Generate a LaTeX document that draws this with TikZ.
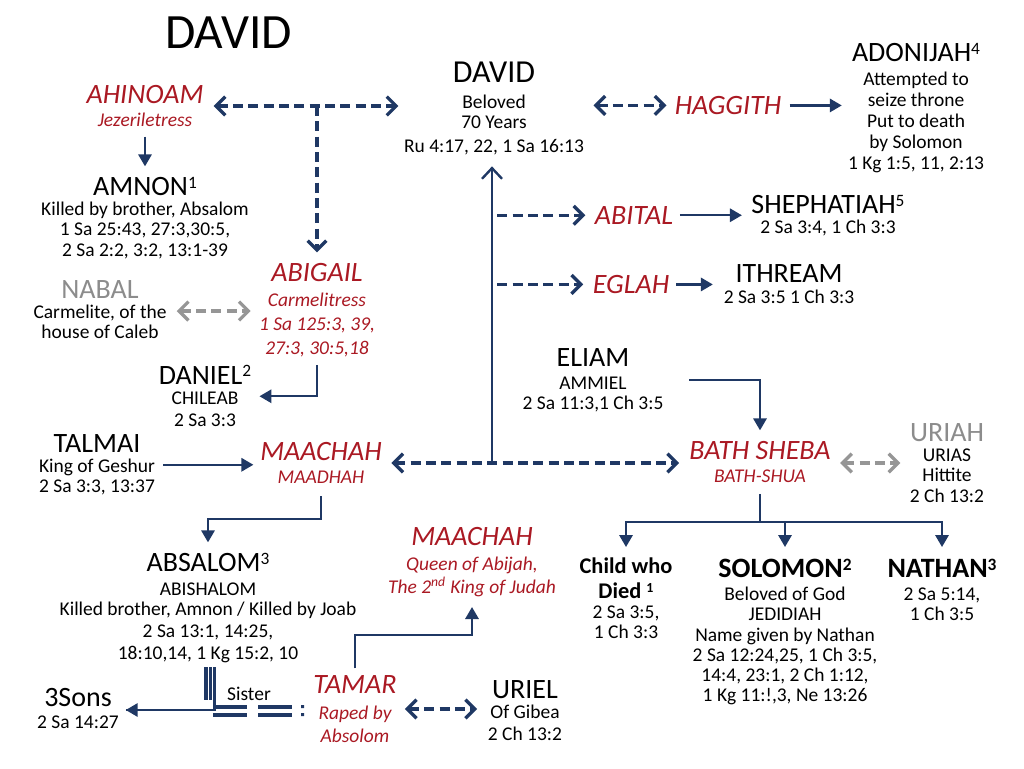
\documentclass[tikz,border=0pt]{standalone}
\usepackage{fontspec}
\setmainfont{Carlito}
\usepackage{graphicx}
\usetikzlibrary{arrows.meta,calc}
\definecolor{navy}{RGB}{31,56,100}
\definecolor{dred}{RGB}{170,25,35}
\definecolor{lgray}{RGB}{140,140,140}
\definecolor{lline}{RGB}{150,150,150}
\newcommand\PName[1]{{\fontsize{21}{15}\selectfont #1}}
\newcommand\RName[1]{{\fontsize{21}{15}\selectfont #1}}
\newcommand\GName[1]{{\color{lgray}\fontsize{21}{15}\selectfont #1}}
\newcommand\BName[1]{{\bfseries\fontsize{21}{15}\selectfont #1}}
\newcommand\SupN[1]{\smash{\raisebox{0.26em}{\scalebox{0.62}{#1}}}}
\tikzset{
  person/.style={align=center, inner sep=0pt, anchor=north, font=\fontsize{14.6}{15.2}\selectfont},
  redp/.style={person, text=dred, font=\fontsize{14.6}{17.5}\selectfont\itshape},
  sl/.style={draw=navy, line width=1.7pt, -{Triangle[length=9pt,width=10pt]}},
  plainl/.style={draw=navy, line width=1.7pt},
  chev/.tip={Straight Barb[length=7pt,width=14pt]},
  dl/.style={draw=navy, line width=2.5pt, dash pattern=on 7.5pt off 4pt, chev-chev},
  dl1/.style={draw=navy, line width=2.5pt, dash pattern=on 7.5pt off 4pt, -chev},
  gl/.style={draw=lline, line width=2.5pt, dash pattern=on 7.5pt off 4pt, chev-chev},
}
\begin{document}
\begin{tikzpicture}[x=0.75pt,y=-0.75pt]
\useasboundingbox (0,0) rectangle (1024,768);

% ---------- nodes ----------
\node[anchor=base west, inner sep=0pt, font=\fontsize{37}{40}\selectfont] (title) at (165,48) {DAVID};

\node[person] (david) at (494,62) {{\fontsize{24}{15}\selectfont DAVID}\\[4pt]Beloved\\70 Years\\[3pt]Ru 4:17, 22, 1 Sa 16:13};
\node[redp] (ahinoam) at (145,85) {\RName{AHINOAM}\\Jezeriletress};
\node[person] (amnon) at (145,177) {\PName{AMNON\SupN{1}}\\Killed by brother, Absalom\\1 Sa 25:43, 27:3,30:5,\\2 Sa 2:2, 3:2, 13:1-39};
\node[redp] (abigail) at (317,263) {\RName{ABIGAIL}\\[1pt]Carmelitress\\[1pt]1 Sa 125:3, 39,\\27:3, 30:5,18};
\node[person] (nabal) at (100,280) {\GName{NABAL}\\Carmelite, of the\\house of Caleb};
\node[person] (daniel) at (205,366) {\PName{DANIEL\SupN{2}}\\CHILEAB\\[1pt]2 Sa 3:3};
\node[person] (talmai) at (97,434) {\PName{TALMAI}\\King of Geshur\\2 Sa 3:3, 13:37};
\node[redp] (maachah) at (321,442) {\RName{MAACHAH}\\MAADHAH};
\node[person] (absalom) at (208,553) {\PName{ABSALOM\SupN{3}}\\[3pt]ABISHALOM\\Killed brother, Amnon / Killed by Joab\\[1pt]2 Sa 13:1, 14:25,\\[1pt]18:10,14, 1 Kg 15:2, 10};
\node[person] (threesons) at (78,688) {\PName{3Sons}\\[1pt]2 Sa 14:27};
\node[redp] (tamar) at (355,675) {\RName{TAMAR}\\[2pt]Raped by\\Absolom};
\node[person] (uriel) at (525,680) {\PName{URIEL}\\Of Gibea\\[1pt]2 Ch 13:2};
\node[redp] (maachahq) at (472,527) {\RName{MAACHAH}\\[1pt]Queen of Abijah,\\The 2\textsuperscript{nd} King of Judah};
\node[redp] (haggith) at (728,96) {\RName{HAGGITH}};
\node[person] (adonijah) at (916,43) {\PName{ADONIJAH\SupN{4}}\\[3pt]Attempted to\\[0.5pt]seize throne\\[0.5pt]Put to death\\[0.5pt]by Solomon\\[0.5pt]1 Kg 1:5, 11, 2:13};
\node[redp] (abital) at (634,206) {\RName{ABITAL}};
\node[redp] (eglah) at (631,275) {\RName{EGLAH}};
\node[person] (shephatiah) at (828,195) {\PName{SHEPHATIAH\SupN{5}}\\2 Sa 3:4, 1 Ch 3:3};
\node[person] (ithream) at (789,264) {\PName{ITHREAM}\\[1pt]2 Sa 3:5 1 Ch 3:3};
\node[person] (eliam) at (593,348) {\PName{ELIAM}\\[2pt]AMMIEL\\2 Sa 11:3,1 Ch 3:5};
\node[redp] (bathsheba) at (760,441) {\RName{BATH SHEBA}\\BATH-SHUA};
\node[person] (uriah) at (947,423) {\GName{URIAH}\\URIAS\\Hittite\\2 Ch 13:2};
\node[person] (child) at (626,558) {{\bfseries\fontsize{16.8}{18}\selectfont Child who}\\[3pt]{\bfseries\fontsize{16.8}{18}\selectfont Died \SupN{1}}\\2 Sa 3:5,\\1 Ch 3:3};
\node[person] (solomon) at (785,559) {\BName{SOLOMON\SupN{2}}\\[2pt]Beloved of God\\JEDIDIAH\\Name given by Nathan\\2 Sa 12:24,25, 1 Ch 3:5,\\14:4, 23:1, 2 Ch 1:12,\\1 Kg 11:!,3, Ne 13:26};
\node[person] (nathan) at (942,559) {\BName{NATHAN\SupN{3}}\\[2pt]2 Sa 5:14,\\1 Ch 3:5};
\node[inner sep=0pt, font=\fontsize{14.6}{15}\selectfont] (sister) at (249,694) {Sister};

% ---------- junctions ----------
\coordinate (jA) at (317,106);
\coordinate (jMB) at (492,463);
\coordinate (jK) at (760,522);
\coordinate (kTip) at (0,547);
\coordinate (yNA) at (0,311);
\coordinate (sisbar) at (210,667);
\coordinate (sisjoin) at (214,710);

% ---------- connectors ----------
\draw[dl] ([xshift=7.5pt]ahinoam.east |- jA) -- ([xshift=-4pt]david.west |- jA);
\draw[dl1] (jA) -- ([yshift=8pt]jA |- abigail.north);
\draw[sl] ([yshift=-7pt]ahinoam.south) -- ([yshift=8pt]amnon.north);
\draw[gl] ([xshift=7.5pt]nabal.east |- yNA) -- ([xshift=-6pt]abigail.west |- yNA);
\draw[sl] ([yshift=-6pt]abigail.south) |- ([xshift=6pt]daniel.east);
\draw[sl] ([xshift=6pt]talmai.east) -- ([xshift=-5pt]maachah.west |- talmai.east);
\draw[dl] ([xshift=7pt]maachah.east |- jMB) -- ([xshift=-7.5pt]bathsheba.west |- jMB);
\draw[draw=navy, line width=1.8pt, -{Straight Barb[length=8pt,width=15pt]}] (jMB) -- ([yshift=-8pt]jMB |- david.south);
\draw[dl1] ([xshift=4pt]jMB |- abital.east) -- ([xshift=-7pt]abital.west);
\draw[dl1] ([xshift=4pt]jMB |- eglah.east) -- ([xshift=-7pt]eglah.west);
\draw[sl] ([xshift=5pt]abital.east) -- ([xshift=-7pt]shephatiah.west |- abital.east);
\draw[sl] ([xshift=5pt]eglah.east) -- ([xshift=-8pt]ithream.west |- eglah.east);
\draw[dl] ([xshift=7pt]david.east |- haggith.east) -- ([xshift=-6pt]haggith.west);
\draw[sl] ([xshift=6pt]haggith.east) -- ([xshift=-4.5pt]adonijah.west |- haggith.east);
\draw[sl] ([xshift=19pt]eliam.east) -| ([yshift=8pt]bathsheba.north);
\draw[gl] ([xshift=7pt]bathsheba.east |- jMB) -- ([xshift=-7pt]uriah.west |- jMB);
\draw[plainl] ([yshift=-8pt]bathsheba.south) -- (jK);
\draw[sl] (jK) -| (child.north |- kTip);
\draw[sl] (jK) -| (solomon.north |- kTip);
\draw[sl] (jK) -| (nathan.north |- kTip);
\draw[sl] ([yshift=-9pt]maachah.south) -- ++(0,23) -| ([yshift=8pt]absalom.north);
\draw[sl] ([yshift=5pt]tamar.north) -- ++(0,-33) -| ([yshift=-7.5pt]maachahq.south);
\draw[dl] ([xshift=6pt]tamar.east) -- ([xshift=-8pt]uriel.west |- tamar.east);
% Absalom bars and sister line
\draw[navy, line width=2.4pt] ($(sisbar)+(-4,0)$) -- ++(0,33);
\draw[navy, line width=2.4pt] ($(sisbar)+(0.5,0)$) -- ++(0,33);
\draw[plainl] ($(sisbar)+(4.5,0)$) |- ([xshift=5pt]threesons.east |- sisjoin);
\draw[sl] ($(sisjoin)+(0.5,0)$) -- ([xshift=5pt]threesons.east |- sisjoin);
\draw[navy, line width=3pt] (213,707) -- (247,707) (213,715) -- (247,715)
                             (258,707) -- (292,707) (258,715) -- (292,715);
\fill[navy] (301,705) rectangle (304,708) (301,713) rectangle (304,716);
\end{tikzpicture}
\end{document}
